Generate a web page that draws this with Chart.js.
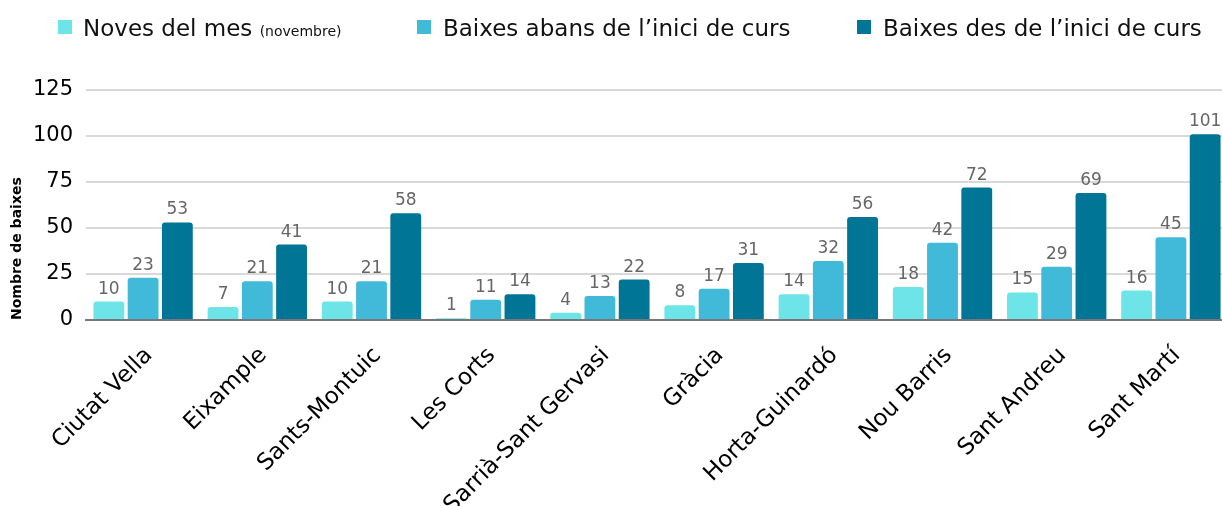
<!DOCTYPE html>
<html>
<head>
<meta charset="utf-8">
<script src="https://cdn.jsdelivr.net/npm/chart.js@4"></script>
<style>
  html, body { margin: 0; padding: 0; background: #fff; }
  #wrap { position: relative; width: 1222px; height: 506px; overflow: hidden; }
  #box { position: absolute; left: 0; top: 0; width: 1228px; height: 506px; }
  .sq { position: absolute; top: 20px; width: 14px; height: 14px; }
  .lt { position: absolute; top: 14px; line-height: 28px; font-family: 'DejaVu Sans'; font-size: 23px; color: #111; white-space: nowrap; }
</style>
</head>
<body>
<div id="wrap">
  <div id="box"><canvas id="chart"></canvas></div>
  <div class="sq" style="left:58px;background:#6de5e8"></div>
  <div class="lt" style="left:83px">Noves del mes <span style="font-size:14px">(novembre)</span></div>
  <div class="sq" style="left:417px;background:#41b9d8"></div>
  <div class="lt" style="left:443px">Baixes abans de l’inici de curs</div>
  <div class="sq" style="left:857px;background:#007595"></div>
  <div class="lt" style="left:883px">Baixes des de l’inici de curs</div>
</div>
<script>
// districtes i baixes
const districtes = ['Ciutat Vella', 'Eixample', 'Sants-Montuic', 'Les Corts', 'Sarrià-Sant Gervasi',
  'Gràcia', 'Horta-Guinardó', 'Nou Barris', 'Sant Andreu', 'Sant Martí'];
const noves = [10, 7, 10, 1, 4, 8, 14, 18, 15, 16];
const abans = [23, 21, 21, 11, 13, 17, 32, 42, 29, 45];
const des = [53, 41, 58, 14, 22, 31, 56, 72, 69, 101];
const yTicks = [0, 25, 50, 75, 100, 125];

// labels above every bar
const valueLabels = {
  id: 'valueLabels',
  afterDatasetsDraw(chart) {
    const ctx = chart.ctx;
    ctx.save();
    ctx.font = '17px "DejaVu Sans"';
    ctx.fillStyle = '#666';
    ctx.textAlign = 'center';
    ctx.textBaseline = 'alphabetic';
    chart.data.datasets.forEach((ds, i) => {
      chart.getDatasetMeta(i).data.forEach((el, j) => {
        ctx.fillText(ds.data[j], el.x, el.y - 8);
      });
    });
    ctx.restore();
  }
};

const bar = (label, data, color) => ({
  label: label,
  data: data,
  backgroundColor: color,
  borderRadius: { topLeft: 3, topRight: 3 },
  borderSkipped: 'bottom',
  categoryPercentage: 0.9,
  barPercentage: 0.9
});

new Chart(document.getElementById('chart'), {
  type: 'bar',
  data: {
    labels: districtes,
    datasets: [
      bar('Noves del mes (novembre)', noves, '#6de5e8'),
      bar('Baixes abans de l’inici de curs', abans, '#41b9d8'),
      bar('Baixes des de l’inici de curs', des, '#007595')
    ]
  },
  options: {
    responsive: true,
    maintainAspectRatio: false,
    animation: false,
    layout: { padding: { top: 90, right: 0, left: 0, bottom: 0 } },
    plugins: { legend: { display: false }, tooltip: { enabled: false } },
    scales: {
      x: {
        grid: { display: false },
        border: { color: '#777', width: 2 },
        ticks: {
          color: '#000',
          font: { family: 'DejaVu Sans', size: 23 },
          maxRotation: 45, minRotation: 45, autoSkip: false,
          padding: 14, labelOffset: 6
        },
        afterFit(s) { s.height = 186; }
      },
      y: {
        min: 0, max: 125,
        afterBuildTicks(s) { s.ticks = yTicks.map(v => ({ value: v })); },
        grid: { color: '#d9d9d9', lineWidth: 2, drawTicks: false },
        border: { display: false },
        ticks: { color: '#000', font: { family: 'DejaVu Sans', size: 21 }, padding: 13 },
        title: {
          display: true, text: 'Nombre de baixes', align: 'start', color: '#000',
          font: { family: 'DejaVu Sans', size: 14, weight: 'bold' },
          padding: { top: 9, bottom: 0 }
        },
        afterFit(s) { s.width = 86; }
      }
    }
  },
  plugins: [valueLabels]
});
</script>
</body>
</html>
